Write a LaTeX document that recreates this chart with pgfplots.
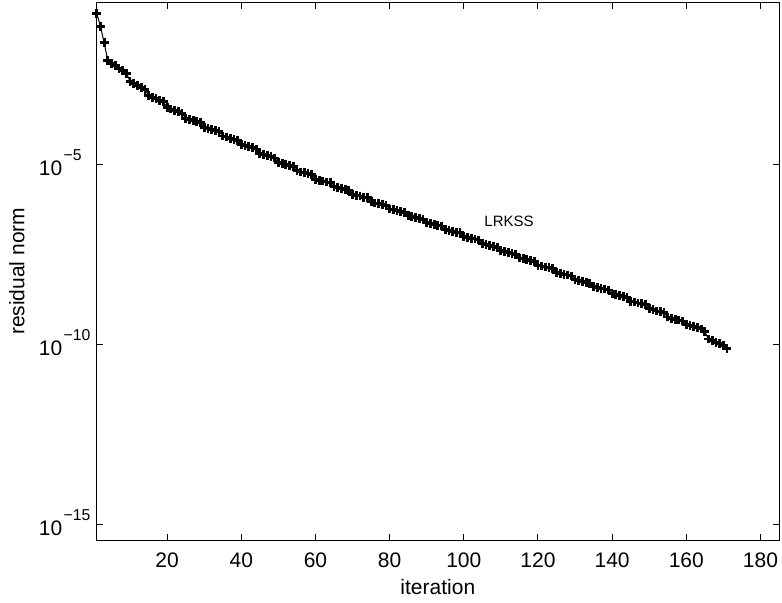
\documentclass[border=0pt]{standalone}
\usepackage{fontspec}
\setmainfont{Liberation Sans}
\usepackage{pgfplots}
\pgfplotsset{compat=1.18}
\usepackage{pgfplotstable}

% log10 of the residual norm, per iteration
\pgfplotstableread{
it lr
1 -0.81
2 -1.17
3 -1.63
4 -2.13
5 -2.20
6 -2.27
7 -2.34
8 -2.41
9 -2.48
10 -2.70
11 -2.76
12 -2.82
13 -2.87
14 -2.92
15 -3.10
16 -3.15
17 -3.19
18 -3.23
19 -3.27
20 -3.43
21 -3.47
22 -3.51
23 -3.55
24 -3.59
25 -3.73
26 -3.76
27 -3.79
28 -3.82
29 -3.85
30 -3.98
31 -4.01
32 -4.04
33 -4.07
34 -4.10
35 -4.22
36 -4.25
37 -4.28
38 -4.31
39 -4.34
40 -4.46
41 -4.49
42 -4.52
43 -4.55
44 -4.58
45 -4.71
46 -4.74
47 -4.77
48 -4.80
49 -4.83
50 -4.95
51 -4.98
52 -5.01
53 -5.03
54 -5.06
55 -5.19
56 -5.22
57 -5.24
58 -5.27
59 -5.30
60 -5.42
61 -5.45
62 -5.47
63 -5.50
64 -5.52
65 -5.63
66 -5.66
67 -5.68
68 -5.71
69 -5.73
70 -5.84
71 -5.87
72 -5.89
73 -5.92
74 -5.94
75 -6.05
76 -6.08
77 -6.10
78 -6.13
79 -6.15
80 -6.25
81 -6.27
82 -6.30
83 -6.32
84 -6.34
85 -6.44
86 -6.46
87 -6.49
88 -6.51
89 -6.53
90 -6.63
91 -6.65
92 -6.68
93 -6.70
94 -6.72
95 -6.82
96 -6.84
97 -6.87
98 -6.89
99 -6.91
100 -7.01
101 -7.03
102 -7.06
103 -7.08
104 -7.11
105 -7.21
106 -7.23
107 -7.26
108 -7.28
109 -7.31
110 -7.41
111 -7.43
112 -7.46
113 -7.48
114 -7.51
115 -7.61
116 -7.63
117 -7.66
118 -7.68
119 -7.71
120 -7.81
121 -7.83
122 -7.86
123 -7.88
124 -7.91
125 -8.01
126 -8.03
127 -8.06
128 -8.08
129 -8.11
130 -8.21
131 -8.23
132 -8.26
133 -8.28
134 -8.31
135 -8.40
136 -8.42
137 -8.45
138 -8.47
139 -8.50
140 -8.61
141 -8.63
142 -8.66
143 -8.68
144 -8.71
145 -8.81
146 -8.83
147 -8.86
148 -8.88
149 -8.91
150 -9.02
151 -9.05
152 -9.08
153 -9.10
154 -9.13
155 -9.25
156 -9.28
157 -9.31
158 -9.33
159 -9.36
160 -9.46
161 -9.49
162 -9.52
163 -9.55
164 -9.58
165 -9.66
166 -9.86
167 -9.90
168 -9.95
169 -9.99
170 -10.04
171 -10.12
}\residual

\newcommand{\lblfont}{\fontsize{10.5pt}{12pt}\selectfont}
% 10^x label, base left aligned like matlab
\newcommand{\tenexp}[1]{\makebox[26.3pt][l]{10\hspace{0.6pt}\raisebox{7.2pt}{\fontsize{7.9pt}{8pt}\selectfont #1}}}

\begin{document}
\begin{tikzpicture}
\useasboundingbox (0,0) rectangle (391pt,301pt);
\begin{axis}[
    at={(48.35pt,31pt)}, anchor=south west,
    scale only axis,
    width=341.15pt, height=268.65pt,
    xmin=1, xmax=185,
    ymin=-15.44, ymax=-0.52,
    xtick={20,40,...,180},
    ytick={-15,-10,-5},
    yticklabels={\tenexp{−15},\tenexp{−10},\tenexp{−5}},
    minor tick num=0,
    tick align=inside,
    major tick length=3.2pt,
    axis line style={line width=0.5pt},
    tick style={line width=0.5pt, black},
    /pgf/number format/assume math mode=true,
    xticklabel style={font=\lblfont, anchor=north, inner sep=0pt, yshift=-6.2pt},
    yticklabel style={font=\lblfont, anchor=base east, inner sep=0pt, xshift=-2.35pt, yshift=-5.5pt},
    xlabel={iteration},
    ylabel={residual norm},
    xlabel style={at={(axis description cs:0.5,-0.1005)}, anchor=base, font=\lblfont},
    ylabel style={at={(axis description cs:-0.106,0.5)}, anchor=base, font=\lblfont},
    clip=false,
]
\addplot[black, line width=0.5pt, mark=+, mark size=2.2pt, mark options={line width=1.4pt}]
    table[x=it, y=lr] {\residual};
\node[font=\fontsize{7.5pt}{9pt}\selectfont] at (axis cs:112.2,-6.58) {LRKSS};
\end{axis}
\end{tikzpicture}
\end{document}
